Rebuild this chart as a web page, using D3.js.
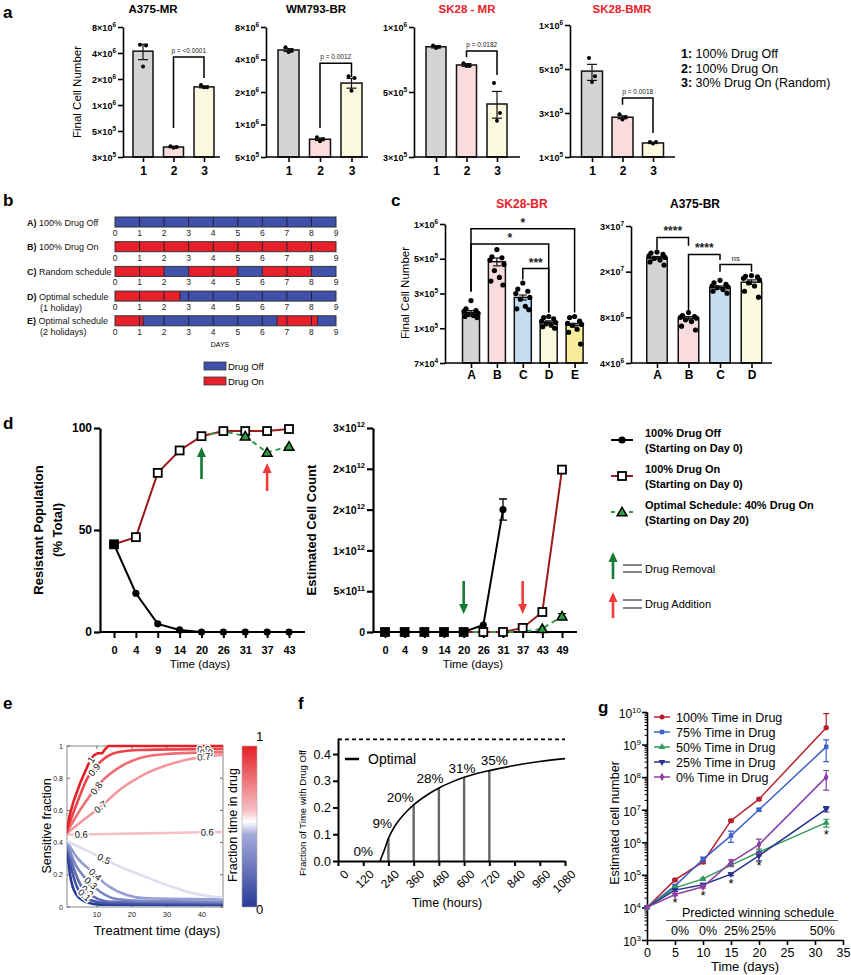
<!DOCTYPE html>
<html><head><meta charset="utf-8">
<script src="https://cdn.jsdelivr.net/npm/d3@7/dist/d3.min.js"></script>
<style>
html,body{margin:0;padding:0;background:#fff;}
svg text{font-family:"Liberation Sans",Arial,Helvetica,sans-serif;}
</style></head><body>
<script>
// ================= DATA =================
// Panel a
const aCategories = ["1","2","3"];
const aTitles = ["A375-MR","WM793-BR","SK28 - MR","SK28-BMR"];
const aTitleColors = ["#000","#000","#e8202a","#e8202a"];
const aTicks = [[3e5,5e5,1e6,2e6,4e6,8e6],[5e5,1e6,2e6,4e6,8e6],[3e5,5e5,1e6],[1e5,3e5,5e5,1e6]];
const aMeans = [[4.2e6,3.65e5,1.62e6],[4.9e6,7.3e5,2.42e6],[8.1e5,6.67e5,4.55e5],[4.88e5,2.7e5,1.42e5]];
const aSems = [[8.5e5,5e3,4e4],[1.5e5,2e4,2.5e5],[1e4,1e4,4.8e4],[5e4,1e4,2e3]];
const aPoints = [
  [[5.0e6,4.9e6,2.8e6],[3.6e5,3.7e5,3.65e5],[1.7e6,1.6e6,1.6e6]],
  [[5.2e6,4.7e6,4.8e6],[7.6e5,7.0e5,7.3e5],[2.8e6,2.7e6,2.05e6]],
  [[8.2e5,8.1e5,8.0e5],[6.8e5,6.6e5,6.6e5],[5.5e5,4.24e5,3.99e5]],
  [[5.95e5,4.59e5,4.3e5],[2.9e5,2.7e5,2.55e5],[1.45e5,1.45e5,1.4e5]]
];
const aBrackets = [
  ["2","3","p = <0.0001",3.6e6,5.4e5,2.05e6],
  ["2","3","p = 0.0012",3.7e6,9.3e5,2.75e6],
  ["2","3","p = 0.0182",7.75e5,7.25e5,6.0e5],
  ["2","3","p = 0.0018",3.57e5,3.3e5,1.82e5]
];
const aBarColors = ["#d4d4d4","#fadcdf","#fcf9e1"];
const aLegend = [["1:"," 100% Drug Off"],["2:"," 100% Drug On"],["3:"," 30% Drug On (Random)"]];

// Panel b
const bRowLabels = [["A)"," 100% Drug Off"],["B)"," 100% Drug On"],["C)"," Random schedule"],["D)"," Optimal schedule","(1 holiday)"],["E)"," Optimal schedule","(2 holidays)"]];
const bSchedules = [
  [[0,9,0]],
  [[0,9,1]],
  [[0,2,1],[2,3,0],[3,5,1],[5,6,0],[6,8,1],[8,9,0]],
  [[0,2.65,1],[2.65,9,0]],
  [[0,1.15,1],[1.15,6.6,0],[6.6,8.25,1],[8.25,9,0]]
];
const bDays = [0,1,2,3,4,5,6,7,8,9];
const bLegend = ["Drug Off","Drug On"];

// Panel c
const cCatsSK = ["A","B","C","D","E"];
const cTicksSK = [7e4,1e5,3e5,5e5,1e6];
const cMeansSK = [1.65e5,4.79e5,2.65e5,1.21e5,1.1e5];
const cPointsSK = [
  [2.4e5,1.85e5,1.75e5,1.7e5,1.6e5,1.55e5,1.5e5,1.45e5,1.4e5],
  [6.0e5,5.2e5,5.1e5,4.9e5,4.6e5,4.2e5,3.8e5,3.6e5,3.4e5],
  [3.5e5,3.2e5,3.1e5,3.0e5,2.65e5,2.5e5,2.0e5,1.85e5,1.8e5],
  [1.45e5,1.4e5,1.35e5,1.25e5,1.2e5,1.15e5,1.1e5,1.05e5,1.0e5],
  [1.45e5,1.4e5,1.25e5,1.17e5,1.13e5,1.1e5,9.9e4,9.6e4,8.5e4]
];
const cColorsSK = ["#d4d4d4","#fadcdf","#c6dcf1","#fcf9e1","#f6ec9c"];
const cBracketsSK = [["A","E","*",9.1e5,3.09e5,1.65e5],["A","D","*",6.7e5,3.09e5,1.65e5],["C","D","***",4.33e5,3.68e5,1.65e5]];
const cCatsA = ["A","B","C","D"];
const cTicksA = [4e6,8e6,2e7,3e7];
const cMeansA = [2.26e7,7.9e6,1.46e7,1.62e7];
const cPointsA = [
  [2.38e7,2.36e7,2.33e7,2.3e7,2.27e7,2.25e7,2.22e7,2.18e7,2.12e7],
  [8.8e6,8.3e6,8.1e6,8.0e6,7.9e6,7.7e6,7.5e6,7.0e6,6.6e6],
  [1.68e7,1.6e7,1.55e7,1.5e7,1.47e7,1.45e7,1.4e7,1.35e7,1.3e7],
  [1.85e7,1.82e7,1.8e7,1.75e7,1.7e7,1.6e7,1.5e7,1.35e7,1.2e7]
];
const cColorsA = ["#d4d4d4","#fadcdf","#c6dcf1","#fcf9e1"];
const cBracketsA = [["A","B","****",2.71e7,2.43e7,2.52e7],["B","C","****",2.33e7,9.2e6,2.22e7],["C","D","ns",2.13e7,2.0e7,2.0e7]];

// Panel d
const dDaysLeft = [0,4,9,14,20,26,31,37,43];
const dOffLeft = [43,19,4,1,0,0,0,0,0];
const dOnLeft = [43,46.5,78,89,96,98.5,98.5,98.5,99.5];
const dOptDaysLeft = [20,26,31,37,43];
const dOptLeft = [96,98.5,96,88,91];
const dLeftTicks = [0,50,100];
const dDaysRight = [0,4,9,14,20,26,31,37,43,49];
const dOffDaysRight = [0,4,9,14,20,26,31];
const dOffRight = [0,0,0,0,0,8.5e10,1.5e12];
const dOffRightErr = [0,0,0,0,0,0,1.3e11];
const dOnRight = [0,0,0,0,0,0,0,5e10,2.45e11,1.99e12];
const dOptDaysRight = [20,26,31,37,43,49];
const dOptRight = [0,0,0,0,4e10,1.95e11];
const dOptRightErr = [0,0,0,0,0,3e10];
const dRightTicks = [0,5e11,1e12,1.5e12,2e12,2.5e12];
const dLegend = [["100% Drug Off","(Starting on  Day 0)"],["100% Drug On","(Starting on  Day 0)"],["Optimal Schedule: 40% Drug On","(Starting on Day 20)"]];
const dArrowLegend = ["Drug Removal","Drug Addition"];
const dRemovalDay = 20, dAdditionDay = 37;

// Panel e
const eLevels = [1,0.9,0.8,0.7,0.6,0.5,0.4,0.3,0.2,0.1,0];
const eCurves = [
  [[1.3,0.46],[2.2,0.57],[3.2,0.65],[5.2,0.77],[7.6,0.89],[9.0,0.94],[10.2,0.955],[11.5,0.955],[12.3,0.98],[13.2,1.0],[46,1.0]],
  [[1.3,0.47],[4.2,0.64],[7.0,0.79],[10.9,0.90],[15.6,0.96],[22.3,0.975],[46,0.982]],
  [[1.3,0.46],[5.1,0.60],[10.9,0.77],[16.6,0.87],[22.3,0.925],[29.9,0.95],[46,0.962]],
  [[1.3,0.455],[6.1,0.54],[10.9,0.62],[16.6,0.73],[22.3,0.81],[29.9,0.88],[39.4,0.93],[46,0.944]],
  [[1.3,0.45],[10,0.452],[20,0.456],[30,0.46],[46,0.466]],
  [[1.3,0.41],[6.1,0.36],[10.9,0.31],[16.6,0.25],[22.3,0.20],[29.9,0.137],[37.5,0.085],[43.2,0.064],[46,0.06]],
  [[1.3,0.41],[4.2,0.31],[8.0,0.23],[12.8,0.137],[18.5,0.075],[24.2,0.054],[46,0.048]],
  [[1.3,0.405],[3.7,0.27],[6.6,0.18],[10.9,0.095],[15.6,0.05],[25,0.037],[46,0.033]],
  [[1.3,0.40],[3.2,0.25],[5.6,0.126],[9,0.064],[13.7,0.033],[46,0.027]],
  [[1.3,0.40],[2.8,0.23],[4.7,0.106],[8,0.043],[12.8,0.023],[46,0.019]],
  [[1.3,0.395],[2.3,0.2],[4.0,0.08],[7,0.03],[10.9,0.015],[46,0.012]]
];
const eLabelDays = [[8.3],[9.2,40.5],[9.8,41.2],[11,40.5],[5.5,41.5],[12],[9.5],[8.2],[7.2],[6.4],[]];
const eXTicks = [10,20,30,40];
const eYTicks = [0,0.2,0.4,0.6,0.8,1];

// Panel f
const fCurve = [[200,0],[220,0.04],[240,0.085],[270,0.13],[300,0.162],[330,0.188],[360,0.21],[420,0.245],[480,0.273],[540,0.295],[600,0.313],[660,0.327],[720,0.338],[840,0.357],[960,0.372],[1080,0.383]];
const fBarHours = [240,360,480,600,720];
const fBarValues = [0.085,0.21,0.273,0.313,0.338];
const fLabels = ["0%","9%","20%","28%","31%","35%"];
const fLabelHours = [120,210,296,438,590,743];
const fLabelValues = [0.018,0.124,0.22,0.29,0.33,0.36];
const fAsymptote = 0.455;
const fXTicks = [0,120,240,360,480,600,720,840,960,1080];
const fYTicks = [0,0.1,0.2,0.3,0.4];

// Panel g
const gDays = [0,5,10,15,20,32];
const gNames = ["100% Time in Drug","75% Time in Drug","50% Time in Drug","25% Time in Drug","0% Time in Drug"];
const gValues = [
  [1e4,7e4,2.5e5,4.6e6,2.1e7,3.3e9],
  [1e4,4.6e4,3e5,1.6e6,1e7,8.5e8],
  [1e4,4e4,7.5e4,2.0e5,5.0e5,4.0e6],
  [1e4,3.4e4,5e4,1.05e5,3.9e5,1.05e7],
  [1e4,2.5e4,4.3e4,2.4e5,8.5e5,1.0e8]
];
const gSems = [
  [0,4e3,3e4,3e5,1.5e6,5.6e9],
  [0,4e3,5e4,6e5,1e6,5.5e8],
  [0,3e3,6e3,2e4,1.2e5,1.1e6],
  [0,3e3,5e3,1e4,1.2e5,2e6],
  [0,2e3,4e3,5e4,4e5,6e7]
];
const gStarDays = [5,10,15,20,32];
const gStarValues = [1.6e4,2.6e4,6.1e4,2.1e5,1.9e6];
const gSchedLabels = ["0%","0%","25%","25%","50%"];
const gSchedDays = [5.9,10.9,16.0,20.8,31.3];
const gXTicks = [0,5,10,15,20,25,30,35];
const gYTicks = [1e3,1e4,1e5,1e6,1e7,1e8,1e9,1e10];

// ================= DRAW =================
const FONT = '"Liberation Sans", Arial, Helvetica, sans-serif';
const svg = d3.select("body").append("svg").attr("width",851).attr("height",975).attr("font-family",FONT);
svg.append("rect").attr("width",851).attr("height",975).attr("fill","#fff");

function sci(t, v, fs, supFs){
  t.text(null);
  if (v === 0) { t.text("0"); return; }
  const e = Math.floor(Math.log10(v) + 1e-9);
  const m = Math.round(v / Math.pow(10, e));
  t.append("tspan").text(m + "×10");
  t.append("tspan").attr("font-size", supFs).attr("dy", -fs*0.45).text(e);
}
function pow10(t, e, fs, supFs){
  t.text(null);
  t.append("tspan").text("10");
  t.append("tspan").attr("font-size", supFs).attr("dy", -fs*0.45).text(e);
}
function styleAxis(a, w){
  a.attr("font-family", FONT);
  a.select(".domain").attr("stroke","#000").attr("stroke-width",w);
  a.selectAll(".tick line").attr("stroke","#000").attr("stroke-width",w);
}
function arrow(g, x, yFrom, yTip, color){
  const dir = yTip > yFrom ? 1 : -1;
  g.append("line").attr("x1",x).attr("x2",x).attr("y1",yFrom).attr("y2",yTip - dir*8).attr("stroke",color).attr("stroke-width",2.6);
  g.append("path").attr("d",`M${x-4.5},${yTip-dir*10}L${x+4.5},${yTip-dir*10}L${x},${yTip}Z`).attr("fill",color);
}
function letter(txt, x, y){
  svg.append("text").attr("x",x).attr("y",y).attr("font-size",17).attr("font-weight","bold").text(txt);
}

function barPlot(o){
  const n = o.ticks.length;
  const ys = d3.scaleLinear().domain(o.ticks.map(Math.log10)).range(o.ticks.map((t,i)=>o.yB-(o.yB-o.yT)*i/(n-1)));
  const y = v => ys(Math.log10(v));
  const x = d3.scalePoint().domain(o.cats).range([o.x0, o.x0 + o.step*(o.cats.length-1)]);
  const g = svg.append("g");
  o.cats.forEach((c,i)=>{
    const m = o.means[i];
    g.append("rect").attr("x",x(c)-o.bw/2).attr("y",y(m)).attr("width",o.bw).attr("height",o.yB-y(m))
      .attr("fill",o.colors[i]).attr("stroke","#111").attr("stroke-width",1.5);
  });
  o.cats.forEach((c,i)=>{
    const pts = o.points[i].slice().sort((a,b)=>b-a);
    pts.forEach((v,j)=>g.append("circle").attr("cx",x(c)+o.jit[j%o.jit.length]).attr("cy",y(v)).attr("r",o.r).attr("fill","#000"));
  });
  o.cats.forEach((c,i)=>{
    const m = o.means[i];
    const s = o.sems ? o.sems[i] : d3.deviation(o.points[i])/Math.sqrt(o.points[i].length);
    const y1 = y(m+s), y2 = y(Math.max(m-s, m*0.05));
    g.append("line").attr("x1",x(c)).attr("x2",x(c)).attr("y1",y1).attr("y2",y2).attr("stroke","#111").attr("stroke-width",1.2);
    [y1,y2].forEach(yy=>g.append("line").attr("x1",x(c)-o.cap).attr("x2",x(c)+o.cap).attr("y1",yy).attr("y2",yy).attr("stroke","#111").attr("stroke-width",1.2));
  });
  const ya = g.append("g").attr("transform",`translate(${o.ax},0)`)
    .call(d3.axisLeft(ys).tickValues(o.ticks.map(Math.log10)).tickSize(5).tickSizeOuter(0).tickFormat(""));
  styleAxis(ya,1.6);
  ya.selectAll(".tick").each(function(d){
    const t = d3.select(this).append("text").attr("x",-7).attr("dy","0.35em").attr("text-anchor","end")
      .attr("font-size",o.tfs).attr("font-weight","bold").attr("fill","#000");
    sci(t, Math.pow(10,d), o.tfs, o.tfs*0.72);
  });
  g.append("line").attr("x1",o.ax).attr("x2",o.xEnd).attr("y1",o.yB).attr("y2",o.yB).attr("stroke","#000").attr("stroke-width",1.6);
  const xa = g.append("g").attr("transform",`translate(0,${o.yB})`).call(d3.axisBottom(x).tickSize(5).tickSizeOuter(0));
  xa.select(".domain").remove();
  styleAxis(xa,1.6);
  xa.selectAll(".tick text").attr("font-size",o.xfs).attr("font-weight","bold").attr("fill","#000").attr("y",o.xly).attr("dy",0);
  o.brackets.forEach(b=>{
    const x1 = x(b[0]), x2 = x(b[1]), yl = y(b[3]);
    g.append("path").attr("d",`M${x1},${y(b[4])}V${yl}H${x2}V${y(b[5])}`).attr("fill","none").attr("stroke","#000").attr("stroke-width",1.5);
    const ns = b[2]==="ns";
    g.append("text").attr("x",(x1+x2)/2).attr("y",yl-(ns?4:o.bly)).attr("text-anchor","middle")
      .attr("font-size",ns?8:o.bfs).attr("font-weight",ns?"normal":o.bfw).attr("fill","#222").text(b[2]);
  });
  g.append("text").attr("x",o.tx).attr("y",o.ty).attr("text-anchor","middle").attr("font-size",o.titleFs)
    .attr("font-weight","bold").attr("fill",o.titleColor).text(o.title);
}

// ---- Panel a ----
letter("a",3,18);
const aGeom = [
  {ax:123,x0:143,step:30.5,bw:20,xEnd:220,yT:27,tx:153},
  {ax:266,x0:288.5,step:31.5,bw:21,xEnd:368,yT:27,tx:316},
  {ax:414,x0:436,step:30.5,bw:20,xEnd:520,yT:27,tx:467},
  {ax:570,x0:592,step:30.5,bw:21,xEnd:675,yT:25,tx:622}
];
aGeom.forEach((gm,k)=>{
  barPlot(Object.assign({}, gm, {
    yB:157, ticks:aTicks[k], cats:aCategories, means:aMeans[k], sems:aSems[k], points:aPoints[k],
    colors:aBarColors, jit:[-3,3,0], r:2, cap:5, tfs:9, xfs:12, xly:18,
    brackets:[aBrackets[k]], bly:4, bfs:6.5, bfw:"normal",
    title:aTitles[k], titleColor:aTitleColors[k], ty:13, titleFs:11.5
  }));
});
svg.append("text").attr("transform","translate(81,92) rotate(-90)").attr("text-anchor","middle").attr("font-size",11.5).text("Final Cell Number");
aLegend.forEach((l,i)=>{
  const t = svg.append("text").attr("x",681).attr("y",58+i*14.5).attr("font-size",12.5);
  t.append("tspan").attr("font-weight","bold").text(l[0]);
  t.append("tspan").text(l[1]);
});

// ---- Panel b ----
letter("b",3,206);
(function(){
  const x = d3.scaleLinear().domain([0,9]).range([115,336]);
  const g = svg.append("g");
  const BLUE = "#3f51a8", RED = "#e8202a";
  bSchedules.forEach((sch,i)=>{
    const yT = 217 + i*24.7, h = 10;
    sch.forEach(s=>{
      g.append("rect").attr("x",x(s[0])).attr("y",yT).attr("width",x(s[1])-x(s[0])).attr("height",h).attr("fill",s[2]?RED:BLUE);
    });
    const cuts = new Set(bDays.slice(1,-1));
    sch.slice(1).forEach(s=>cuts.add(s[0]));
    cuts.forEach(d=>g.append("line").attr("x1",x(d)).attr("x2",x(d)).attr("y1",yT).attr("y2",yT+h).attr("stroke","#1a1a40").attr("stroke-width",0.9));
    g.append("rect").attr("x",x(0)).attr("y",yT).attr("width",x(9)-x(0)).attr("height",h).attr("fill","none").attr("stroke","#333").attr("stroke-width",1);
    bDays.forEach(d=>g.append("text").attr("x",x(d)).attr("y",yT+h+9).attr("text-anchor","middle").attr("font-size",8.5).attr("fill","#222").text(d));
    const lab = bRowLabels[i];
    const t = g.append("text").attr("x",27).attr("y",yT+8.5).attr("font-size",9).attr("fill","#111");
    t.append("tspan").attr("font-weight","bold").text(lab[0]);
    t.append("tspan").text(lab[1]);
    if (lab[2]) g.append("text").attr("x",40).attr("y",yT+19.5).attr("font-size",9).attr("fill","#111").text(lab[2]);
  });
  g.append("text").attr("x",220).attr("y",347).attr("text-anchor","middle").attr("font-size",7).text("DAYS");
  bLegend.forEach((l,i)=>{
    g.append("rect").attr("x",204).attr("y",362+i*15).attr("width",22).attr("height",8).attr("fill",i?RED:BLUE).attr("stroke","#333").attr("stroke-width",0.8);
    g.append("text").attr("x",228).attr("y",370+i*15).attr("font-size",9.5).text(l);
  });
})();

// ---- Panel c ----
letter("c",391,206);
barPlot({ax:445,x0:471,step:25.9,bw:17,xEnd:588,yB:363,yT:224,ticks:cTicksSK,cats:cCatsSK,means:cMeansSK,
  points:cPointsSK,colors:cColorsSK,jit:[0,-5,5,-7,7,-2.5,2.5,-6,6],r:2.6,cap:4,tfs:9,xfs:12,xly:16,
  brackets:cBracketsSK,bly:2,bfs:12,bfw:"bold",title:"SK28-BR",titleColor:"#e8202a",tx:522,ty:208,titleFs:12});
barPlot({ax:631,x0:657,step:31.5,bw:20.5,xEnd:772,yB:363,yT:226,ticks:cTicksA,cats:cCatsA,means:cMeansA,
  points:cPointsA,colors:cColorsA,jit:[0,-6,6,-8,8,-3,3,-7,7],r:2.6,cap:5,tfs:9,xfs:12,xly:16,
  brackets:cBracketsA,bly:2,bfs:12,bfw:"bold",title:"A375-BR",titleColor:"#000",tx:695,ty:208,titleFs:12});
svg.append("text").attr("transform","translate(409,293) rotate(-90)").attr("text-anchor","middle").attr("font-size",11.5).text("Final Cell Number");

// ---- Panel d ----
letter("d",3,429);
const DRED = "#9e1a1a", DGREEN = "#2e9e44";
function squareMarks(g, xs, ys, filled){
  g.selectAll(null).data(xs).enter().append("rect").attr("x",(d,i)=>xs[i]-4).attr("y",(d,i)=>ys[i]-4)
    .attr("width",8).attr("height",8).attr("fill",(d,i)=>filled[i]?"#000":"#fff").attr("stroke","#000").attr("stroke-width",1.8);
}
function triMarks(g, xs, ys){
  xs.forEach((xx,i)=>g.append("path").attr("d",d3.symbol(d3.symbolTriangle,42)()).attr("transform",`translate(${xx},${ys[i]+1})`)
    .attr("fill",DGREEN).attr("stroke","#000").attr("stroke-width",1.5));
}
(function(){
  const g = svg.append("g");
  const x = d3.scalePoint().domain(dDaysLeft).range([114,289]);
  const y = d3.scaleLinear().domain([0,100]).range([632,428]);
  const ya = g.append("g").attr("transform","translate(100,0)").call(d3.axisLeft(y).tickValues(dLeftTicks).tickSize(6).tickSizeOuter(0));
  styleAxis(ya,2.2);
  ya.selectAll(".tick text").attr("font-size",12).attr("font-weight","bold").attr("fill","#000").attr("x",-8);
  g.append("line").attr("x1",100).attr("x2",305).attr("y1",632).attr("y2",632).attr("stroke","#000").attr("stroke-width",2.2);
  const xa = g.append("g").attr("transform","translate(0,632)").call(d3.axisBottom(x).tickSize(6).tickSizeOuter(0));
  xa.select(".domain").remove(); styleAxis(xa,2);
  xa.selectAll(".tick text").attr("font-size",11).attr("font-weight","bold").attr("fill","#000").attr("y",22).attr("dy",0);
  g.append("text").attr("x",200).attr("y",668).attr("text-anchor","middle").attr("font-size",11.5).text("Time (days)");
  g.append("text").attr("transform","translate(43,530) rotate(-90)").attr("text-anchor","middle").attr("font-size",13).attr("font-weight","bold").text("Resistant Population");
  g.append("text").attr("transform","translate(62,530) rotate(-90)").attr("text-anchor","middle").attr("font-size",13).attr("font-weight","bold").text("(% Total)");
  const line = d3.line();
  g.append("path").attr("d",line(dDaysLeft.map((d,i)=>[x(d),y(dOnLeft[i])]))).attr("fill","none").attr("stroke",DRED).attr("stroke-width",2);
  g.append("path").attr("d",line(dOptDaysLeft.map((d,i)=>[x(d),y(dOptLeft[i])]))).attr("fill","none").attr("stroke",DGREEN).attr("stroke-width",2).attr("stroke-dasharray","5,4");
  g.append("path").attr("d",line(dDaysLeft.map((d,i)=>[x(d),y(dOffLeft[i])]))).attr("fill","none").attr("stroke","#000").attr("stroke-width",2);
  dDaysLeft.forEach((d,i)=>g.append("circle").attr("cx",x(d)).attr("cy",y(dOffLeft[i])).attr("r",3.6).attr("fill","#000"));
  squareMarks(g, dDaysLeft.map(d=>x(d)), dOnLeft.map(v=>y(v)), dOnLeft.map((v,i)=>v===dOffLeft[i]));
  triMarks(g, dOptDaysLeft.slice(2).map(d=>x(d)), dOptLeft.slice(2).map(v=>y(v)));
  arrow(g, x(dRemovalDay), 479, 447, "#157a32");
  arrow(g, x(dAdditionDay), 491, 463, "#f23b3b");
})();
(function(){
  const g = svg.append("g");
  const x = d3.scalePoint().domain(dDaysRight).range([385,562]);
  const y = d3.scaleLinear().domain([0,2.5e12]).range([632,428]);
  const ya = g.append("g").attr("transform","translate(373,0)").call(d3.axisLeft(y).tickValues(dRightTicks).tickSize(6).tickSizeOuter(0).tickFormat(""));
  styleAxis(ya,2.2);
  ya.selectAll(".tick").each(function(d){
    const t = d3.select(this).append("text").attr("x",-8).attr("dy","0.35em").attr("text-anchor","end").attr("font-size",10.5).attr("font-weight","bold").attr("fill","#000");
    sci(t, d, 10.5, 7.5);
  });
  g.append("line").attr("x1",373).attr("x2",577).attr("y1",632).attr("y2",632).attr("stroke","#000").attr("stroke-width",2.2);
  const xa = g.append("g").attr("transform","translate(0,632)").call(d3.axisBottom(x).tickSize(6).tickSizeOuter(0));
  xa.select(".domain").remove(); styleAxis(xa,2);
  xa.selectAll(".tick text").attr("font-size",11).attr("font-weight","bold").attr("fill","#000").attr("y",22).attr("dy",0);
  g.append("text").attr("x",473).attr("y",668).attr("text-anchor","middle").attr("font-size",11.5).text("Time (days)");
  g.append("text").attr("transform","translate(316,530) rotate(-90)").attr("text-anchor","middle").attr("font-size",13).attr("font-weight","bold").text("Estimated Cell Count");
  const line = d3.line();
  g.append("path").attr("d",line(dDaysRight.map((d,i)=>[x(d),y(dOnRight[i])]))).attr("fill","none").attr("stroke",DRED).attr("stroke-width",2);
  g.append("path").attr("d",line(dOptDaysRight.map((d,i)=>[x(d),y(dOptRight[i])]))).attr("fill","none").attr("stroke",DGREEN).attr("stroke-width",2).attr("stroke-dasharray","5,4");
  g.append("path").attr("d",line(dOffDaysRight.map((d,i)=>[x(d),y(dOffRight[i])]))).attr("fill","none").attr("stroke","#000").attr("stroke-width",2);
  dOffDaysRight.forEach((d,i)=>{
    const e = dOffRightErr[i]; if(!e) return;
    const xx = x(d);
    g.append("path").attr("d",`M${xx},${y(dOffRight[i]-e)}V${y(dOffRight[i]+e)}M${xx-4},${y(dOffRight[i]+e)}H${xx+4}M${xx-4},${y(dOffRight[i]-e)}H${xx+4}`).attr("stroke","#000").attr("stroke-width",1.3).attr("fill","none");
  });
  dOptDaysRight.forEach((d,i)=>{
    const e = dOptRightErr[i]; if(!e) return;
    const xx = x(d);
    g.append("path").attr("d",`M${xx},${y(dOptRight[i]-e)}V${y(dOptRight[i]+e)}M${xx-4},${y(dOptRight[i]+e)}H${xx+4}`).attr("stroke","#000").attr("stroke-width",1.3).attr("fill","none");
  });
  const onFilled = dDaysRight.map((d,i)=>i<dOffRight.length && dOffRight[i]===dOnRight[i]);
  squareMarks(g, dDaysRight.map(d=>x(d)), dOnRight.map(v=>y(v)), onFilled);
  dOffDaysRight.forEach((d,i)=>{ if(!onFilled[i]) g.append("circle").attr("cx",x(d)).attr("cy",y(dOffRight[i])).attr("r",3.6).attr("fill","#000"); });
  triMarks(g, dOptDaysRight.slice(4).map(d=>x(d)), dOptRight.slice(4).map(v=>y(v)));
  arrow(g, x(dRemovalDay), 581, 614, "#157a32");
  arrow(g, x(dAdditionDay), 581, 614, "#f23b3b");
})();
(function(){
  const g = svg.append("g");
  const ys = [440,476,512];
  dLegend.forEach((l,i)=>{
    const yy = ys[i];
    const ln = g.append("line").attr("x1",611).attr("x2",633).attr("y1",yy).attr("y2",yy).attr("stroke-width",2)
      .attr("stroke",[ "#000",DRED,DGREEN][i]);
    if(i===2) ln.attr("stroke-dasharray","4,5");
    if(i===0) g.append("circle").attr("cx",622).attr("cy",yy).attr("r",3.6).attr("fill","#000");
    if(i===1) squareMarks(g,[622],[yy],[false]);
    if(i===2) triMarks(g,[622],[yy]);
    g.append("text").attr("x",645).attr("y",yy-3).attr("font-size",11).attr("font-weight","bold").text(l[0]);
    g.append("text").attr("x",645).attr("y",yy+11.5).attr("font-size",11).attr("font-weight","bold").text(l[1]);
  });
  arrow(g, 613, 579, 552, "#157a32");
  arrow(g, 613, 618, 592, "#f23b3b");
  [[565,572],[600,608]].forEach((p,i)=>{
    p.forEach(yy=>g.append("line").attr("x1",623).attr("x2",642).attr("y1",yy).attr("y2",yy).attr("stroke","#333").attr("stroke-width",1.2));
    g.append("text").attr("x",645).attr("y",[573,608][i]).attr("font-size",11).text(dArrowLegend[i]);
  });
})();

// ---- Panel e ----
letter("e",3,709);
(function(){
  const g = svg.append("g");
  const x = d3.scaleLinear().domain([1.43,46]).range([67,223]);
  const y = d3.scaleLinear().domain([0,1]).range([907,746]);
  const cDom = [0,0.45,0.53,0.6,1], cRng = ["#283b96","#a3aad9","#ffffff","#f6bfc4","#e41f26"];
  const color = d3.scaleLinear().domain(cDom).range(cRng);
  g.append("rect").attr("x",67).attr("y",746).attr("width",156).attr("height",161).attr("fill","#fff").attr("stroke","#888").attr("stroke-width",1);
  eYTicks.forEach(t=>{
    g.append("line").attr("x1",67).attr("x2",70).attr("y1",y(t)).attr("y2",y(t)).attr("stroke","#666");
    g.append("line").attr("x1",220).attr("x2",223).attr("y1",y(t)).attr("y2",y(t)).attr("stroke","#666");
    g.append("text").attr("x",63).attr("y",y(t)+2.5).attr("text-anchor","end").attr("font-size",7).attr("fill","#222").text(d3.format("~g")(t));
  });
  eXTicks.forEach(t=>{
    g.append("line").attr("x1",x(t)).attr("x2",x(t)).attr("y1",907).attr("y2",904).attr("stroke","#666");
    g.append("line").attr("x1",x(t)).attr("x2",x(t)).attr("y1",746).attr("y2",749).attr("stroke","#666");
    g.append("text").attr("x",x(t)).attr("y",917).attr("text-anchor","middle").attr("font-size",7.5).attr("fill","#222").text(t);
  });
  g.append("clipPath").attr("id","eclip").append("rect").attr("x",67).attr("y",744).attr("width",156).attr("height",165);
  const line = d3.line().x(d=>x(d[0])).y(d=>y(d[1])).curve(d3.curveMonotoneX);
  const lineLin = d3.line().x(d=>x(d[0])).y(d=>y(d[1]));
  const cg = g.append("g").attr("clip-path","url(#eclip)");
  eCurves.slice().reverse().forEach((c,ri)=>{
    const i = eCurves.length-1-ri;
    cg.append("path").attr("d",(i===0?lineLin:line)(c)).attr("fill","none").attr("stroke",color(eLevels[i])).attr("stroke-width",2.6);
  });
  function interp(pts, day){
    const i = d3.bisector(d=>d[0]).left(pts, day);
    if (i<=0) return pts[0][1];
    if (i>=pts.length) return pts[pts.length-1][1];
    const a = pts[i-1], b = pts[i], t = (day-a[0])/(b[0]-a[0]);
    return a[1]+t*(b[1]-a[1]);
  }
  eLabelDays.forEach((days,i)=>{
    days.forEach(day=>{
      const c = eCurves[i];
      const px = x(day), py = y(interp(c,day));
      const dx = x(day+1)-x(day-1), dy = y(interp(c,day+1))-y(interp(c,day-1));
      const ang = Math.atan2(dy,dx)*180/Math.PI;
      g.append("text").attr("transform",`translate(${px},${py}) rotate(${ang})`).attr("text-anchor","middle").attr("dy","0.35em")
        .attr("font-size",9.5).attr("fill","#111").attr("stroke","#fff").attr("stroke-width",3).attr("paint-order","stroke")
        .text(d3.format("~g")(eLevels[i]));
    });
  });
  g.append("text").attr("transform","translate(51,826) rotate(-90)").attr("text-anchor","middle").attr("font-size",12.5).text("Sensitive fraction");
  g.append("text").attr("x",157).attr("y",935).attr("text-anchor","middle").attr("font-size",13).text("Treatment time (days)");
  const grad = svg.append("defs").append("linearGradient").attr("id","cbar").attr("x1",0).attr("x2",0).attr("y1",1).attr("y2",0);
  cDom.forEach((d,i)=>grad.append("stop").attr("offset",d).attr("stop-color",cRng[i]));
  g.append("rect").attr("x",242).attr("y",746).attr("width",15).attr("height",161).attr("fill","url(#cbar)").attr("stroke","#aaa").attr("stroke-width",0.6);
  g.append("text").attr("x",256).attr("y",741).attr("font-size",13).text("1");
  g.append("text").attr("x",256).attr("y",914).attr("font-size",13).text("0");
  g.append("text").attr("transform","translate(237,825) rotate(-90)").attr("text-anchor","middle").attr("font-size",12.5).text("Fraction time in drug");
})();

// ---- Panel f ----
letter("f",298,709);
(function(){
  const g = svg.append("g");
  const x = d3.scaleLinear().domain([0,1080]).range([338,565]);
  const y = d3.scaleLinear().domain([0,0.46]).range([861,738]);
  g.append("line").attr("x1",x(0)).attr("x2",x(1080)).attr("y1",y(fAsymptote)).attr("y2",y(fAsymptote)).attr("stroke","#000").attr("stroke-width",1.6).attr("stroke-dasharray","4,3");
  fBarHours.forEach((h,i)=>g.append("line").attr("x1",x(h)).attr("x2",x(h)).attr("y1",y(0)).attr("y2",y(fBarValues[i])).attr("stroke","#666").attr("stroke-width",2.4));
  g.append("path").attr("d",d3.line().x(d=>x(d[0])).y(d=>y(d[1])).curve(d3.curveMonotoneX)(fCurve)).attr("fill","none").attr("stroke","#000").attr("stroke-width",1.6);
  const ya = g.append("g").attr("transform","translate(338,0)").call(d3.axisLeft(y).tickValues(fYTicks).tickSize(5).tickSizeOuter(0).tickFormat(d3.format(".1f")));
  styleAxis(ya,2);
  ya.selectAll(".tick text").attr("font-size",12.5).attr("fill","#000").attr("x",-7);
  const xa = g.append("g").attr("transform","translate(0,861)").call(d3.axisBottom(x).tickValues(fXTicks).tickSize(5).tickSizeOuter(0).tickFormat(""));
  styleAxis(xa,2);
  xa.selectAll(".tick").append("text").attr("transform","translate(5,8) rotate(-45)").attr("text-anchor","end").attr("dy","0.7em")
    .attr("font-size",12).attr("fill","#000").text(d=>d);
  fLabels.forEach((l,i)=>g.append("text").attr("x",x(fLabelHours[i])).attr("y",y(fLabelValues[i])).attr("text-anchor","middle").attr("font-size",13.5).text(l));
  g.append("line").attr("x1",345).attr("x2",359).attr("y1",759).attr("y2",759).attr("stroke","#000").attr("stroke-width",2.5);
  g.append("text").attr("x",368).attr("y",764).attr("font-size",14).text("Optimal");
  g.append("text").attr("transform","translate(306,813) rotate(-90)").attr("text-anchor","middle").attr("font-size",9.5).text("Fraction of Time with Drug Off");
  g.append("text").attr("x",447).attr("y",907).attr("text-anchor","middle").attr("font-size",12.5).text("Time (hours)");
})();

// ---- Panel g ----
letter("g",598,713);
(function(){
  const g = svg.append("g");
  const x = d3.scaleLinear().domain([0,35]).range([647,843]);
  const y = d3.scaleLog().domain([1e3,1e10]).range([940,712]);
  const colors = ["#b81f2d","#3a62c8","#2f9a57","#29338f","#8b3fa3"];
  const symbols = [d3.symbolCircle,d3.symbolSquare,d3.symbolTriangle,d3.symbolTriangle,d3.symbolDiamond];
  const rot = [0,0,0,180,0];
  const minors = [];
  d3.range(3,10).forEach(k=>d3.range(2,10).forEach(m=>minors.push(m*Math.pow(10,k))));
  const ym = g.append("g").attr("transform","translate(647,0)").call(d3.axisLeft(y).tickValues(minors).tickSize(2.5).tickSizeOuter(0).tickFormat(""));
  styleAxis(ym,1);
  const ya = g.append("g").attr("transform","translate(647,0)").call(d3.axisLeft(y).tickValues(gYTicks).tickSize(5).tickSizeOuter(0).tickFormat(""));
  styleAxis(ya,1.6);
  ya.selectAll(".tick").each(function(d){
    const t = d3.select(this).append("text").attr("x",-6).attr("dy","0.45em").attr("text-anchor","end").attr("font-size",12).attr("fill","#000");
    pow10(t, Math.round(Math.log10(d)), 12, 8);
  });
  const xa = g.append("g").attr("transform","translate(0,940)").call(d3.axisBottom(x).tickValues(gXTicks).tickSize(5).tickSizeOuter(0));
  styleAxis(xa,1.6);
  xa.selectAll(".tick text").attr("font-size",12.5).attr("fill","#000").attr("y",8).attr("dy","0.75em");
  g.append("text").attr("x",745).attr("y",971).attr("text-anchor","middle").attr("font-size",13).text("Time (days)");
  g.append("text").attr("transform","translate(619,823) rotate(-90)").attr("text-anchor","middle").attr("font-size",12.5).text("Estimated cell number");
  gValues.forEach((vals,s)=>{
    g.append("path").attr("d",d3.line().x((d,i)=>x(gDays[i])).y(d=>y(d))(vals)).attr("fill","none").attr("stroke",colors[s]).attr("stroke-width",1.5);
    vals.forEach((v,i)=>{
      const e = gSems[s][i]; if(!e) return;
      const xx = x(gDays[i]), y1 = y(v+e), y2 = v-e>0 ? y(v-e) : y(v);
      g.append("path").attr("d",`M${xx},${y1}V${y2}M${xx-3},${y1}H${xx+3}`+(v-e>0?`M${xx-3},${y2}H${xx+3}`:"")).attr("stroke",colors[s]).attr("stroke-width",1.2).attr("fill","none");
    });
    vals.forEach((v,i)=>g.append("path").attr("d",d3.symbol(symbols[s], s===0?22:20)()).attr("transform",`translate(${x(gDays[i])},${y(v)}) rotate(${rot[s]})`).attr("fill",colors[s]));
  });
  gStarDays.forEach((d,i)=>g.append("text").attr("x",x(d)).attr("y",y(gStarValues[i])+6).attr("text-anchor","middle").attr("font-size",13).text("*"));
  g.append("text").attr("x",758).attr("y",917).attr("text-anchor","middle").attr("font-size",12.5).text("Predicted winning schedule");
  g.append("line").attr("x1",666).attr("x2",838).attr("y1",920.5).attr("y2",920.5).attr("stroke","#555").attr("stroke-width",1);
  gSchedLabels.forEach((l,i)=>g.append("text").attr("x",x(gSchedDays[i])).attr("y",935).attr("text-anchor","middle").attr("font-size",12.5).text(l));
  gNames.forEach((n,s)=>{
    const yy = 717 + s*15;
    g.append("line").attr("x1",654).attr("x2",670).attr("y1",yy).attr("y2",yy).attr("stroke",colors[s]).attr("stroke-width",1.5);
    g.append("path").attr("d",d3.symbol(symbols[s],20)()).attr("transform",`translate(662,${yy}) rotate(${rot[s]})`).attr("fill",colors[s]);
    g.append("text").attr("x",676).attr("y",yy+4.5).attr("font-size",12.5).text(n);
  });
})();
</script>
</body></html>
